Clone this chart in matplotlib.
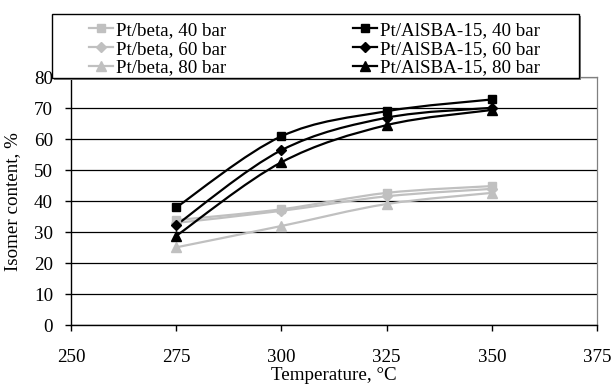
import numpy as np
import matplotlib
matplotlib.use("Agg")
import matplotlib.pyplot as plt
from matplotlib.path import Path
from matplotlib.patches import PathPatch, Rectangle
from matplotlib.lines import Line2D

plt.rcParams['font.family'] = ['Liberation Serif', 'DejaVu Serif']

temps = [275, 300, 325, 350]
beta_40 = [33.9, 37.4, 42.7, 44.9]
beta_60 = [33.0, 36.9, 41.6, 44.0]
beta_80 = [25.1, 32.0, 39.1, 42.7]
alsba_40 = [38.0, 61.0, 69.1, 72.9]
alsba_60 = [32.3, 56.5, 67.0, 70.2]
alsba_80 = [28.8, 52.6, 64.6, 69.5]

series = [
    ("Pt/beta, 40 bar", beta_40, "#c0c0c0", "s"),
    ("Pt/beta, 60 bar", beta_60, "#c0c0c0", "D"),
    ("Pt/beta, 80 bar", beta_80, "#c0c0c0", "^"),
    ("Pt/AlSBA-15, 40 bar", alsba_40, "black", "s"),
    ("Pt/AlSBA-15, 60 bar", alsba_60, "black", "D"),
    ("Pt/AlSBA-15, 80 bar", alsba_80, "black", "^"),
]

FS = 13.7
W, H = 611, 385
fig = plt.figure(figsize=(W/100, H/100), dpi=100)
L, R, T, B = 71, 597, 77.5, 325
ax = fig.add_axes([L/W, 1-B/H, (R-L)/W, (B-T)/H])


def smooth_path(xs, ys, t=1/6):
    pts = list(zip(xs, ys))
    verts = [pts[0]]
    codes = [Path.MOVETO]
    n = len(pts)
    for i in range(n-1):
        p0 = pts[i-1] if i > 0 else pts[i]
        p1 = pts[i]
        p2 = pts[i+1]
        p3 = pts[i+2] if i+2 < n else pts[i+1]
        c1 = (p1[0] + (p2[0]-p0[0])*t, p1[1] + (p2[1]-p0[1])*t)
        c2 = (p2[0] - (p3[0]-p1[0])*t, p2[1] - (p3[1]-p1[1])*t)
        verts += [c1, c2, p2]
        codes += [Path.CURVE4]*3
    return Path(verts, codes)


handles = []
for label, vals, col, mk in series:
    ms = {"s": 6, "D": 5.5, "^": 7}[mk]
    ax.add_patch(PathPatch(smooth_path(temps, vals), fill=False, edgecolor=col, lw=1.6, zorder=3))
    ax.plot(temps, vals, ls="none", marker=mk, color=col, ms=ms, zorder=4)
    handles.append(Line2D([], [], color=col, lw=1.6, marker=mk, ms=ms, label=label))

ax.set_xlim(250, 375)
ax.set_ylim(0, 80)
ax.set_xticks([250, 275, 300, 325, 350, 375])
ax.set_yticks(range(0, 81, 10))
ax.yaxis.grid(True, color="black", lw=0.9)
ax.set_axisbelow(True)
for s in ["top", "right"]:
    ax.spines[s].set_color("#808080")
    ax.spines[s].set_linewidth(0.9)
for s in ["left", "bottom"]:
    ax.spines[s].set_color("black")
    ax.spines[s].set_linewidth(1.0)
ax.tick_params(axis="both", direction="out", length=4, width=1, labelsize=FS, color="black")
ax.tick_params(axis="x", pad=13)
ax.tick_params(axis="y", pad=9)
ax.set_xlabel("Temperature, °C", fontsize=FS, labelpad=1)
ax.set_ylabel("Isomer content, %", fontsize=FS, labelpad=9)

# legend frame with light shadow
fig.patches.append(Rectangle((54/W, 1-80/H), (579-52)/W, (78-14)/H,
                             transform=fig.transFigure, facecolor="#808080",
                             edgecolor="none", zorder=9))
fig.patches.append(Rectangle((52/W, 1-78/H), (579-52)/W, (78-14)/H,
                             transform=fig.transFigure, facecolor="white",
                             edgecolor="black", lw=1.0, zorder=9.5))

common = dict(fontsize=FS, frameon=False, handlelength=1.25, handletextpad=0.15,
              labelspacing=0.08, borderpad=0, borderaxespad=0, loc="center left")
leg1 = fig.legend(handles=handles[:3], bbox_to_anchor=(89/W, 1-49/H), **common)
leg2 = fig.legend(handles=handles[3:], bbox_to_anchor=(353/W, 1-49/H), **common)
leg1.set_zorder(10)
leg2.set_zorder(10)

fig.savefig("out.png", dpi=100)
